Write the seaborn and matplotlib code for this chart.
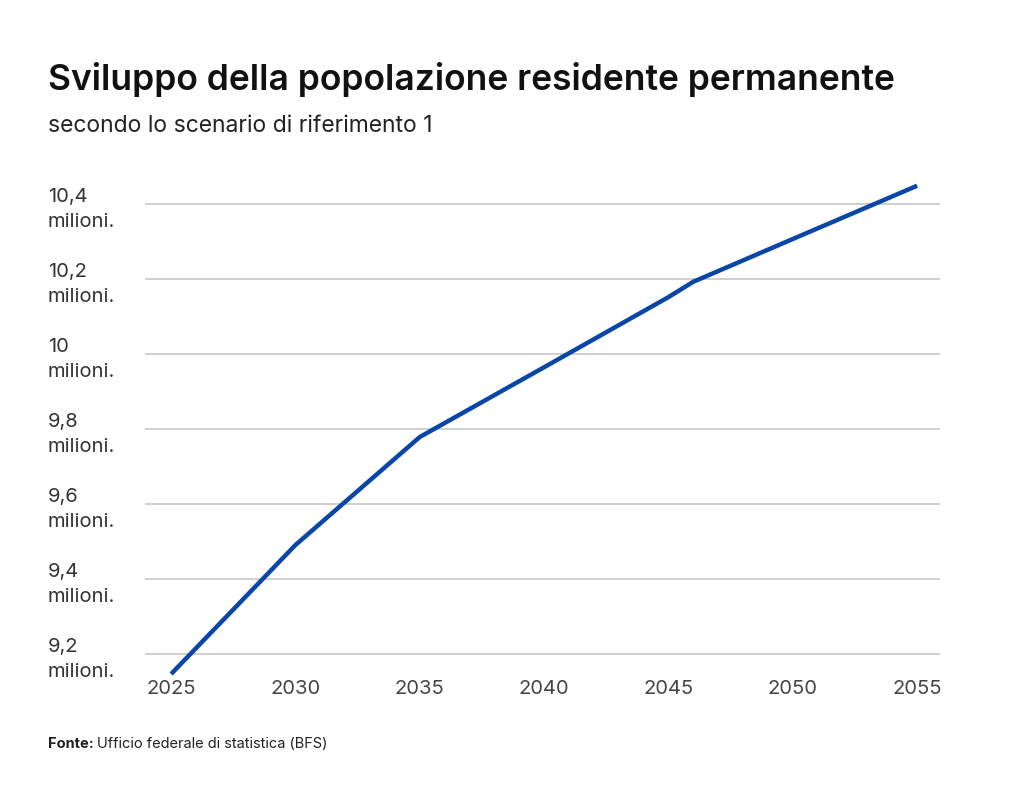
import matplotlib
matplotlib.use("Agg")
import matplotlib.pyplot as plt
import pandas as pd
import seaborn as sns

# Swiss permanent resident population, reference scenario (millions)
YEARS = [2025, 2030, 2035, 2040, 2045, 2046, 2050, 2055]
POPULATION = [9.147, 9.491, 9.779, 9.965, 10.152, 10.193, 10.307, 10.449]
X_TICKS = [2025, 2030, 2035, 2040, 2045, 2050, 2055]
Y_TICKS = [9.2, 9.4, 9.6, 9.8, 10.0, 10.2, 10.4]
Y_LABELS = ["9,2\nmilioni.", "9,4\nmilioni.", "9,6\nmilioni.", "9,8\nmilioni.",
            "10\nmilioni.", "10,2\nmilioni.", "10,4\nmilioni."]

TITLE = "Sviluppo della popolazione residente permanente"
SUBTITLE = "secondo lo scenario di riferimento 1"
SOURCE_BOLD = "Fonte:"
SOURCE = "Ufficio federale di statistica (BFS)"

LINE_COLOR = "#0a45a8"
GRID_COLOR = "#cfcfcf"
TEXT_COLOR = "#222222"


def main():
    sns.set_theme(style="white")
    plt.rcParams["font.family"] = ["Inter", "DejaVu Sans"]

    df = pd.DataFrame({"year": YEARS, "population": POPULATION})

    fig = plt.figure(figsize=(10.24, 8.07), dpi=100)
    ax = fig.add_axes([145 / 1024, 1 - 680 / 807, 795 / 1024, 510 / 807])

    for y in Y_TICKS:
        ax.axhline(y, color=GRID_COLOR, linewidth=1.4, zorder=1)

    sns.lineplot(data=df, x="year", y="population", color=LINE_COLOR,
                 linewidth=3.2, ax=ax, zorder=3, solid_capstyle="butt")

    ax.set_xlim(2023.95, 2055.92)
    ax.set_ylim(9.131, 10.491)
    ax.set_xticks(X_TICKS)
    ax.set_xticklabels([str(t) for t in X_TICKS])
    ax.set_yticks(Y_TICKS)
    ax.set_yticklabels(Y_LABELS, ha="left", linespacing=1.5)
    ax.tick_params(axis="y", length=0, pad=70, labelsize=14.5, labelcolor="#333333")
    ax.tick_params(axis="x", length=0, pad=0, labelsize=14.5, labelcolor="#444444")
    ax.set_xlabel("")
    ax.set_ylabel("")
    sns.despine(ax=ax, left=True, bottom=True)

    fig.text(48 / 1024, 1 - 90 / 807, TITLE, fontsize=25.5, fontweight="semibold",
             color="#111111", va="baseline")
    fig.text(48 / 1024, 1 - 132 / 807, SUBTITLE, fontsize=16.5,
             color=TEXT_COLOR, va="baseline")
    src = fig.text(48 / 1024, 1 - 748 / 807, SOURCE_BOLD, fontsize=10.5,
                   fontweight="bold", color=TEXT_COLOR, va="baseline")
    fig.canvas.draw()
    bb = src.get_window_extent()
    fig.text((bb.x1 + 3) / 1024, 1 - 748 / 807, SOURCE, fontsize=10.5,
             color=TEXT_COLOR, va="baseline")

    fig.savefig("out.png", dpi=100, facecolor="white")
    plt.close(fig)


if __name__ == "__main__":
    main()
